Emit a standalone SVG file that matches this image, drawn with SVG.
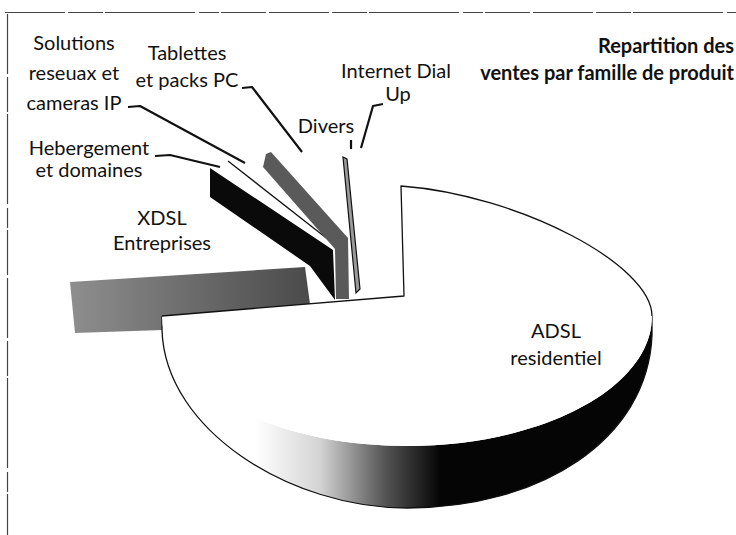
<svg xmlns="http://www.w3.org/2000/svg" width="736" height="535" viewBox="0 0 736 535">
<defs>
<linearGradient id="sideGrad" gradientUnits="userSpaceOnUse" x1="255" y1="0" x2="440" y2="0">
<stop offset="0" stop-color="#ffffff"/>
<stop offset="0.35" stop-color="#d4d4d4"/>
<stop offset="0.7" stop-color="#555555"/>
<stop offset="1" stop-color="#050505"/>
</linearGradient>
<linearGradient id="slabGrad" gradientUnits="userSpaceOnUse" x1="70" y1="0" x2="310" y2="0">
<stop offset="0" stop-color="#8e8e8e"/>
<stop offset="1" stop-color="#4a4a4a"/>
</linearGradient>
</defs>
<style>
.lbl{font-family:Lato,"Open Sans","Liberation Sans",sans-serif;font-size:20px;fill:#111;text-anchor:middle}
.ttl{font-family:Lato,"Open Sans","Liberation Sans",sans-serif;font-size:20px;font-weight:bold;fill:#111;text-anchor:end}
.edge{fill:none;stroke:#111;stroke-width:1.3;stroke-linejoin:round}
.leader{fill:none;stroke:#111;stroke-width:2.2;stroke-linejoin:round}
.frame{fill:none;stroke:#444;stroke-width:1.2;stroke-dasharray:60 3 35 2 90 4 20 2 45 3}
</style>
<rect width="736" height="535" fill="#fff"/>
<g id="frame">
<line class="frame" x1="5" y1="12.5" x2="736" y2="12.5"/>
<line class="frame" x1="7.5" y1="14" x2="7.5" y2="535"/>
</g>
<g id="title">
<text class="ttl" x="734" y="53">Repartition des</text>
<text class="ttl" x="734" y="80">ventes par famille de produit</text>
</g>
<g id="slice-xdsl">
<polygon points="70,282 305,267 310,304 162,316 162,330 75,333" fill="url(#slabGrad)"/>
<text class="lbl" x="162" y="225">XDSL</text>
<text class="lbl" x="162" y="250">Entreprises</text>
</g>
<g id="slice-hebergement">
<polygon points="210,168 333,250 335,300 310,266 210,197" fill="#0a0a0a"/>
<line class="edge" x1="228" y1="161" x2="334" y2="244" stroke-width="2"/>
<text class="lbl" x="89" y="155">Hebergement</text>
<text class="lbl" x="89" y="177">et domaines</text>
</g>
<g id="slice-solutions-tablettes">
<polygon points="266,154 271,152 348,238 349,299 336,299 335,249 263,167" fill="#5a5a5a"/>
<text class="lbl" x="74" y="50">Solutions</text>
<text class="lbl" x="74" y="80">reseuax et</text>
<text class="lbl" x="74" y="110">cameras IP</text>
<text class="lbl" x="187" y="60">Tablettes</text>
<text class="lbl" x="187" y="87">et packs PC</text>
</g>
<g id="slice-divers-dialup">
<polygon points="343,157 347,159 360,289 356,293" fill="#9a9a9a" stroke="#111" stroke-width="1.2"/>
<text class="lbl" x="326" y="133">Divers</text>
<text class="lbl" x="396" y="78">Internet Dial</text>
<text class="lbl" x="398" y="101">Up</text>
</g>
<g id="slice-adsl">
<path d="M162,316 C162,388 272,446 407,446 C542,446 652,388 652,316 L652,335 C648,440 540,508 407,508 C290,508 165,430 162,330 Z" fill="url(#sideGrad)"/>
<path class="edge" d="M162,316 L162,330 C165,430 290,508 407,508 C540,508 648,440 652,335 L652,316"/>
<path d="M404,296 L401,186 C520,195 652,265 652,316 C652,388 542,446 407,446 C272,446 162,388 162,316 Z" fill="#fff"/>
<path class="edge" d="M162,316 L404,296 L401,186 C520,195 652,265 652,316"/>
<text class="lbl" x="556" y="338">ADSL</text>
<text class="lbl" x="556" y="365">residentiel</text>
</g>
<g id="connectors">
<polyline class="leader" points="128,107 140,106 245,163"/>
<polyline class="leader" points="155,156 170,155 220,167"/>
<polyline class="leader" points="242,88 252,87 302,152"/>
<polyline class="leader" points="383,104 373,106 361,148"/>
<line class="leader" x1="351" y1="140" x2="351" y2="149"/>
</g>
</svg>
